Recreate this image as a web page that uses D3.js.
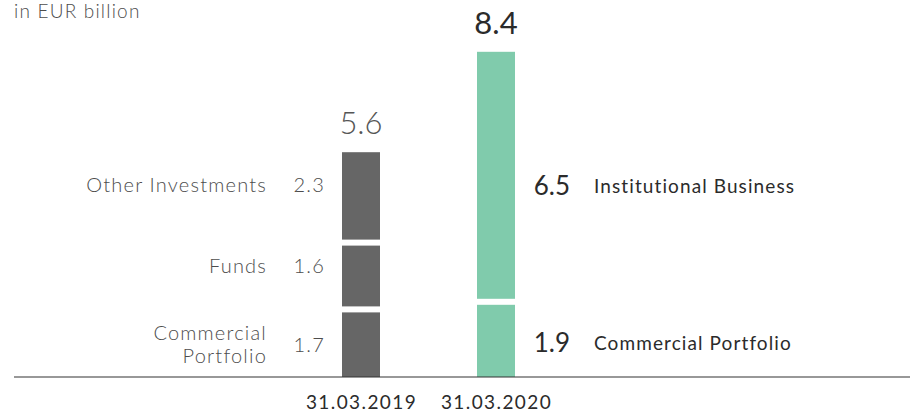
<!DOCTYPE html>
<html>
<head>
<meta charset="utf-8">
<script src="https://d3js.org/d3.v7.min.js"></script>
<style>
  body { margin: 0; background: #fff; font-family: Lato, "Open Sans", sans-serif; }
  svg text { font-family: Lato, "Open Sans", sans-serif; }
</style>
</head>
<body>
<svg id="chart" width="910" height="414"></svg>
<script>
// data
const dates = ["31.03.2019", "31.03.2020"]
const leftNames = ["Commercial Portfolio", "Funds", "Other Investments"]
const leftValues = [1.7, 1.6, 2.3]
const rightNames = ["Commercial Portfolio", "Institutional Business"]
const rightValues = [1.9, 6.5]
const totals = ["5.6", "8.4"]
const unitLabel = "in EUR billion"

const svg = d3.select("#chart")
const base = 377
const gap = 6
const barW = 38

const x = d3.scalePoint().domain(dates).range([361, 496])
const y = d3.scaleLinear().domain([0, 9]).range([base, base - 342])

// stacks with a white gap between segments
const stack = (vals) => {
  let acc = 0
  return vals.map((v, i) => {
    const off = i * gap
    const s = { v, i, y0: y(acc) - off, y1: y(acc + v) - off }
    acc += v
    return s
  })
}
const leftStack = stack(leftValues)
const rightStack = stack(rightValues)

svg.selectAll(".seg-l").data(leftStack).enter().append("rect")
  .attr("x", x(dates[0]) - barW / 2).attr("width", barW)
  .attr("y", d => d.y1).attr("height", d => d.y0 - d.y1)
  .attr("fill", "#666666")

svg.selectAll(".seg-r").data(rightStack).enter().append("rect")
  .attr("x", x(dates[1]) - barW / 2).attr("width", barW)
  .attr("y", d => d.y1).attr("height", d => d.y0 - d.y1)
  .attr("fill", "#80cbac")

// axis
const axis = svg.append("g").attr("transform", `translate(0,${base})`)
  .call(d3.axisBottom(x).tickSize(0).tickPadding(19))
axis.select(".domain").remove()
axis.append("line").attr("x1", 14).attr("x2", 910).attr("stroke", "#333").attr("stroke-width", 1.2)
axis.selectAll(".tick text")
  .attr("font-size", 19).attr("fill", "#2b2b2b")
  .style("letter-spacing", "1.4px")
  .style("font-family", "Lato, sans-serif")

// totals
const topY = [leftStack[leftStack.length - 1].y1, rightStack[rightStack.length - 1].y1]
svg.selectAll(".total").data(totals).enter().append("text")
  .attr("x", (d, i) => x(dates[i]))
  .attr("y", (d, i) => topY[i] - 18)
  .attr("text-anchor", "middle")
  .attr("font-size", 31)
  .attr("font-weight", (d, i) => i ? 400 : 300)
  .attr("fill", (d, i) => i ? "#2b2b2b" : "#555")
  .text(d => d)

// left labels
const leftDy = [0, -10, -11]
leftStack.forEach((s, i) => {
  const cy = (s.y0 + s.y1) / 2 + leftDy[i]
  svg.append("text")
    .attr("x", 325).attr("y", cy).attr("dy", "0.35em")
    .attr("text-anchor", "end").attr("font-size", 20).attr("font-weight", 300).attr("fill", "#4d4d4d")
    .style("letter-spacing", "1.2px")
    .text(s.v.toFixed(1))
  const lines = i === 0 ? leftNames[i].split(" ") : [leftNames[i]]
  const lh = 23
  lines.forEach((l, j) => {
    svg.append("text")
      .attr("x", 267).attr("y", cy + (j - (lines.length - 1) / 2) * lh).attr("dy", "0.35em")
      .attr("text-anchor", "end").attr("font-size", 20).attr("font-weight", 300).attr("fill", "#4d4d4d")
      .style("letter-spacing", "1.2px")
      .text(l)
  })
})

// right labels
const rightDy = [2, 11]
rightStack.forEach((s, i) => {
  const cy = (s.y0 + s.y1) / 2 + rightDy[i]
  svg.append("text")
    .attr("x", 570).attr("y", cy).attr("dy", "0.35em")
    .attr("text-anchor", "end").attr("font-size", 26).attr("fill", "#2b2b2b")
    .text(s.v.toFixed(1))
  svg.append("text")
    .attr("x", 594).attr("y", cy).attr("dy", "0.35em")
    .attr("font-size", 19).attr("fill", "#2b2b2b")
    .style("letter-spacing", "1.1px")
    .text(rightNames[i])
})

svg.append("text")
  .attr("x", 14).attr("y", 18)
  .attr("font-size", 19).attr("font-weight", 300).attr("fill", "#4d4d4d")
  .style("letter-spacing", "1.2px")
  .text(unitLabel)
</script>
</body>
</html>
